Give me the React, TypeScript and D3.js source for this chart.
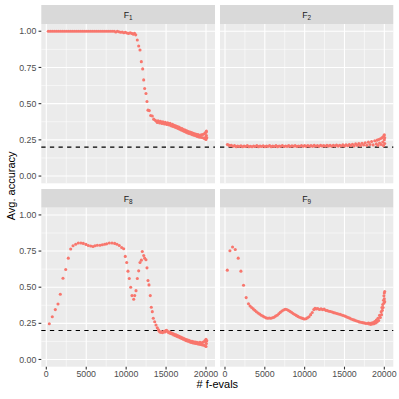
import React from "react";
import * as d3 from "d3";

const panelSubs = ["1", "2", "8", "9"];
const xTicks = [0, 5000, 10000, 15000, 20000];
const xMinor = [2500, 7500, 12500, 17500];
const yTicks = [0, 0.25, 0.5, 0.75, 1];
const yMinor = [0.125, 0.375, 0.625, 0.875];
const yTickLabels = ["0.00", "0.25", "0.50", "0.75", "1.00"];
const chanceLevel = 0.2;
const xLimits = [-626, 21127];
const yLimits = [-0.05, 1.05];

const f1: [number, number][] = [
  [250, 1], [500, 1], [750, 1], [1000, 1], [1250, 1], [1500, 1], [1750, 1], [2000, 1], [2250, 1], [2500, 1],
  [2750, 1], [3000, 1], [3250, 1], [3500, 1], [3750, 1], [4000, 1], [4250, 1], [4500, 1], [4750, 1], [5000, 1],
  [5250, 1], [5500, 1], [5750, 1], [6000, 1], [6250, 1], [6500, 1], [6750, 1], [7000, 1], [7250, 1], [7500, 1],
  [7750, 1], [8000, 1], [8250, 1], [8500, 1], [8700, 0.995], [8900, 1], [9100, 0.997], [9300, 0.993], [9500, 0.995],
  [9700, 0.99], [9900, 0.993], [10100, 0.988], [10300, 0.985], [10500, 0.99], [10700, 0.985], [10900, 0.98],
  [11050, 0.985], [11200, 0.975],
  [11397, 0.94], [11570, 0.898], [11735, 0.87], [11900, 0.79], [12070, 0.74], [12195, 0.664], [12320, 0.605],
  [12485, 0.57], [12610, 0.515], [12735, 0.455], [12900, 0.452], [13070, 0.418], [13275, 0.415], [13450, 0.393],
  [13650, 0.385],
  [13800, 0.378], [13900, 0.37], [14000, 0.382], [14100, 0.374], [14200, 0.366], [14300, 0.378], [14400, 0.368],
  [14500, 0.363], [14600, 0.375], [14700, 0.366], [14800, 0.36], [14900, 0.372], [15000, 0.362], [15100, 0.356],
  [15200, 0.368], [15300, 0.358], [15400, 0.353], [15500, 0.364], [15600, 0.35], [15700, 0.346], [15800, 0.357],
  [15900, 0.343], [16000, 0.35], [16100, 0.338], [16200, 0.347], [16300, 0.334], [16400, 0.342], [16500, 0.328],
  [16600, 0.338], [16700, 0.323], [16800, 0.332], [16900, 0.318], [17000, 0.328], [17100, 0.313], [17200, 0.322],
  [17300, 0.308], [17400, 0.318], [17500, 0.303], [17600, 0.312], [17700, 0.298], [17800, 0.308], [17900, 0.294],
  [18000, 0.304], [18100, 0.29], [18200, 0.3], [18300, 0.286], [18400, 0.296], [18500, 0.282], [18600, 0.292],
  [18700, 0.278], [18800, 0.289], [18900, 0.274], [19000, 0.286], [19100, 0.27], [19200, 0.282], [19300, 0.268],
  [19400, 0.285], [19500, 0.266], [19600, 0.287], [19700, 0.263], [19800, 0.292], [19850, 0.258], [19900, 0.297],
  [19950, 0.268], [20000, 0.302], [20000, 0.253], [20050, 0.28], [20050, 0.31], [20100, 0.265],
];

const f2: [number, number][] = [
  [300, 0.218], [450, 0.214], [600, 0.21], [800, 0.212], [1000, 0.206], [1200, 0.21], [1400, 0.203], [1600, 0.208],
  [1800, 0.204], [2000, 0.209], [2200, 0.202], [2400, 0.207], [2600, 0.204], [2800, 0.21], [3000, 0.203],
  [3200, 0.206], [3400, 0.202], [3600, 0.208], [3800, 0.204], [4000, 0.21], [4200, 0.203], [4400, 0.207],
  [4600, 0.204], [4800, 0.209], [5000, 0.202], [5200, 0.207], [5400, 0.205], [5600, 0.21], [5800, 0.203],
  [6000, 0.207], [6200, 0.204], [6400, 0.21], [6600, 0.203], [6800, 0.208], [7000, 0.205], [7200, 0.211],
  [7400, 0.204], [7600, 0.208], [7800, 0.205], [8000, 0.21], [8200, 0.204], [8400, 0.209], [8600, 0.205],
  [8800, 0.211], [9000, 0.204], [9200, 0.208], [9400, 0.206], [9600, 0.211], [9800, 0.205], [10000, 0.21],
  [10200, 0.205], [10400, 0.211], [10600, 0.206], [10800, 0.21], [11000, 0.205], [11200, 0.212], [11400, 0.206],
  [11600, 0.21], [11800, 0.205], [12000, 0.212], [12200, 0.207], [12400, 0.211], [12600, 0.206], [12800, 0.213],
  [13000, 0.207], [13200, 0.212], [13400, 0.206], [13600, 0.213], [13800, 0.208], [14000, 0.214], [14200, 0.207],
  [14400, 0.213], [14600, 0.208], [14800, 0.215], [15000, 0.207], [15200, 0.216], [15400, 0.209], [15600, 0.218],
  [15800, 0.21], [16000, 0.22], [16200, 0.208], [16400, 0.222], [16600, 0.212], [16800, 0.224], [17000, 0.21],
  [17200, 0.226], [17400, 0.214], [17600, 0.23], [17800, 0.212], [18000, 0.234], [18200, 0.218], [18400, 0.238],
  [18600, 0.215], [18800, 0.244], [19000, 0.222], [19100, 0.248], [19200, 0.212], [19300, 0.252], [19400, 0.228],
  [19500, 0.258], [19600, 0.218], [19700, 0.264], [19800, 0.235], [19850, 0.27], [19900, 0.21], [19950, 0.278],
  [20000, 0.25], [20000, 0.285], [20050, 0.225], [20050, 0.265],
];

const f8: [number, number][] = [
  [376, 0.247], [750, 0.296], [1130, 0.345], [1465, 0.384], [1755, 0.451], [2090, 0.562], [2430, 0.622],
  [2755, 0.701], [3055, 0.764], [3345, 0.787], [3680, 0.797], [4010, 0.806], [4340, 0.806], [4635, 0.803],
  [4970, 0.796], [5260, 0.789], [5560, 0.785], [5850, 0.782], [6100, 0.787], [6390, 0.79], [6725, 0.79],
  [7015, 0.794], [7310, 0.797], [7560, 0.8], [7890, 0.806], [8230, 0.806], [8560, 0.803], [8850, 0.797],
  [9140, 0.789], [9440, 0.775], [9690, 0.766], [9890, 0.713], [10070, 0.671], [10230, 0.611], [10395, 0.56],
  [10570, 0.5], [10730, 0.442], [10945, 0.417], [11070, 0.442], [11235, 0.476], [11400, 0.56], [11570, 0.613],
  [11735, 0.671], [11900, 0.687], [12020, 0.747], [12200, 0.719], [12320, 0.701], [12485, 0.69], [12610, 0.634],
  [12735, 0.546], [12860, 0.516], [13025, 0.442], [13150, 0.361], [13275, 0.331], [13400, 0.285], [13575, 0.261],
  [13740, 0.238], [13900, 0.219], [14050, 0.205], [14150, 0.195], [14250, 0.19], [14350, 0.188], [14450, 0.192],
  [14550, 0.186], [14650, 0.19], [14750, 0.195], [14850, 0.19], [14950, 0.198], [15050, 0.202], [15150, 0.196],
  [15250, 0.19], [15350, 0.185], [15450, 0.19], [15550, 0.18], [15650, 0.185], [15750, 0.176], [15850, 0.18],
  [15950, 0.17], [16050, 0.175], [16150, 0.165], [16250, 0.17], [16350, 0.16], [16450, 0.165], [16550, 0.155],
  [16650, 0.16], [16750, 0.15], [16850, 0.155], [16950, 0.145], [17050, 0.15], [17150, 0.14], [17250, 0.145],
  [17350, 0.135], [17450, 0.14], [17550, 0.13], [17650, 0.136], [17750, 0.126], [17850, 0.132], [17950, 0.122],
  [18050, 0.128], [18150, 0.118], [18250, 0.125], [18350, 0.115], [18450, 0.122], [18550, 0.112], [18650, 0.12],
  [18750, 0.11], [18850, 0.118], [18950, 0.108], [19050, 0.116], [19150, 0.105], [19250, 0.118], [19350, 0.104],
  [19450, 0.115], [19550, 0.1], [19650, 0.12], [19750, 0.098], [19850, 0.13], [19900, 0.095], [19950, 0.125],
  [20000, 0.09], [20000, 0.14], [20050, 0.11], [20100, 0.13],
];

const f9: [number, number][] = [
  [290, 0.618], [620, 0.752], [950, 0.778], [1290, 0.761], [1660, 0.701], [2000, 0.611], [2330, 0.514],
  [2660, 0.428], [2950, 0.386], [3150, 0.37], [3350, 0.36], [3550, 0.35], [3750, 0.34], [3950, 0.33],
  [4150, 0.322], [4350, 0.315], [4550, 0.306], [4750, 0.3], [4950, 0.294], [5150, 0.288], [5350, 0.285],
  [5550, 0.287], [5750, 0.285], [5950, 0.289], [6150, 0.292], [6350, 0.3], [6550, 0.306], [6750, 0.316],
  [6950, 0.326], [7150, 0.335], [7350, 0.342], [7550, 0.347], [7750, 0.346], [7950, 0.34], [8150, 0.333],
  [8350, 0.326], [8550, 0.318], [8750, 0.311], [8950, 0.305], [9150, 0.298], [9350, 0.292], [9550, 0.288],
  [9750, 0.284], [9950, 0.28], [10150, 0.282], [10350, 0.288], [10550, 0.296], [10750, 0.31], [10950, 0.325],
  [11150, 0.345], [11300, 0.354], [11450, 0.35], [11650, 0.352], [11850, 0.346], [12050, 0.35], [12250, 0.345],
  [12450, 0.348], [12650, 0.34], [12850, 0.338], [13050, 0.334], [13250, 0.332], [13450, 0.328], [13650, 0.324],
  [13850, 0.322], [14050, 0.318], [14250, 0.315], [14450, 0.312], [14650, 0.308], [14850, 0.304], [15050, 0.3],
  [15250, 0.295], [15450, 0.29], [15650, 0.286], [15850, 0.28], [16050, 0.276], [16250, 0.272], [16450, 0.268],
  [16650, 0.264], [16850, 0.26], [17050, 0.258], [17250, 0.255], [17450, 0.253], [17650, 0.25], [17850, 0.249],
  [18000, 0.252], [18100, 0.245], [18200, 0.25], [18300, 0.243], [18400, 0.252], [18500, 0.245], [18600, 0.256],
  [18700, 0.248], [18800, 0.262], [18900, 0.252], [19000, 0.272], [19100, 0.26], [19200, 0.285], [19300, 0.27],
  [19400, 0.305], [19500, 0.29], [19600, 0.33], [19650, 0.31], [19700, 0.36], [19750, 0.34], [19800, 0.38],
  [19850, 0.36], [19900, 0.41], [19950, 0.39], [19950, 0.44], [20000, 0.42], [20000, 0.46], [20050, 0.47],
  [20050, 0.4],
];

const panelData = [f1, f2, f8, f9];

const FONT = "'Liberation Sans', Arial, Helvetica, sans-serif";
const cols = [
  { left: 41.3, right: 215 },
  { left: 220, right: 393.3 },
];
const rows = [
  { strip: 5, top: 24, bottom: 183.3 },
  { strip: 189, top: 207.7, bottom: 366.7 },
];

export default function App() {
  return (
    <svg
      width={399}
      height={399}
      style={{ position: "absolute", left: 0, top: 0, background: "#fff" }}
      fontFamily={FONT}
    >
      <rect x={0} y={0} width={399} height={399} fill="#fff" />
      {panelData.map((data, i) => {
        const c = cols[i % 2];
        const r = rows[Math.floor(i / 2)];
        const x = d3.scaleLinear().domain(xLimits).range([c.left, c.right]);
        const y = d3.scaleLinear().domain(yLimits).range([r.bottom, r.top]);
        const cx = (c.left + c.right) / 2;
        const stripMid = (r.strip + r.top) / 2;
        return (
          <g key={i}>
            <rect x={c.left} y={r.strip} width={c.right - c.left} height={r.top - r.strip} fill="#D9D9D9" />
            <text x={cx} y={stripMid + 3.2} textAnchor="middle" fontSize={8.8} fill="#1A1A1A">
              F<tspan dy={2} fontSize={6.4}>{panelSubs[i]}</tspan>
            </text>
            <rect x={c.left} y={r.top} width={c.right - c.left} height={r.bottom - r.top} fill="#EBEBEB" />
            {yMinor.map((v) => (
              <line key={"ym" + v} x1={c.left} x2={c.right} y1={y(v)} y2={y(v)} stroke="#fff" strokeWidth={0.55} />
            ))}
            {xMinor.map((v) => (
              <line key={"xm" + v} x1={x(v)} x2={x(v)} y1={r.top} y2={r.bottom} stroke="#fff" strokeWidth={0.55} />
            ))}
            {yTicks.map((v) => (
              <line key={"yM" + v} x1={c.left} x2={c.right} y1={y(v)} y2={y(v)} stroke="#fff" strokeWidth={1.1} />
            ))}
            {xTicks.map((v) => (
              <line key={"xM" + v} x1={x(v)} x2={x(v)} y1={r.top} y2={r.bottom} stroke="#fff" strokeWidth={1.1} />
            ))}
            <line
              x1={c.left}
              x2={c.right}
              y1={y(chanceLevel)}
              y2={y(chanceLevel)}
              stroke="#000"
              strokeWidth={1.1}
              strokeDasharray="4.3 4.3"
            />
            {data.map((d, j) => (
              <circle key={j} cx={x(d[0])} cy={y(d[1])} r={1.55} fill="#F8766D" />
            ))}
            {i % 2 === 0 &&
              yTicks.map((v, k) => (
                <g key={"yt" + v}>
                  <line x1={c.left - 2.75} x2={c.left} y1={y(v)} y2={y(v)} stroke="#333" strokeWidth={1.1} />
                  <text x={c.left - 5} y={y(v) + 3.1} textAnchor="end" fontSize={8.8} fill="#4D4D4D">
                    {yTickLabels[k]}
                  </text>
                </g>
              ))}
            {i >= 2 &&
              xTicks.map((v) => (
                <g key={"xt" + v}>
                  <line x1={x(v)} x2={x(v)} y1={r.bottom} y2={r.bottom + 2.75} stroke="#333" strokeWidth={1.1} />
                  <text x={x(v)} y={r.bottom + 10.2} textAnchor="middle" fontSize={8.8} fill="#4D4D4D">
                    {v}
                  </text>
                </g>
              ))}
          </g>
        );
      })}
      <text x={217.3} y={388} textAnchor="middle" fontSize={11} fill="#000">
        # f-evals
      </text>
      <text
        transform={`translate(14.5, ${(rows[0].strip + rows[1].bottom) / 2}) rotate(-90)`}
        textAnchor="middle"
        fontSize={11}
        fill="#000"
      >
        Avg. accuracy
      </text>
    </svg>
  );
}
